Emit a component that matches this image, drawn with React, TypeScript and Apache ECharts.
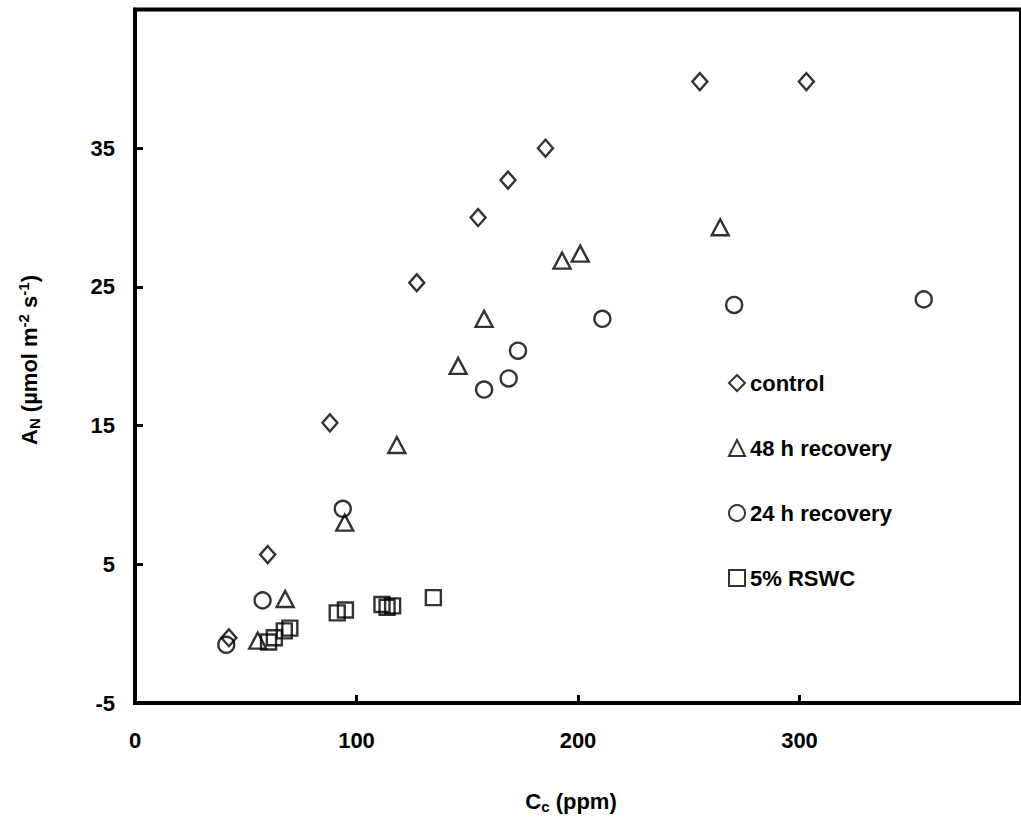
import React, { useEffect, useRef } from "react";
import * as echarts from "echarts";

const xTicksMax = 400;
const yMin = -5;
const yMax = 45;

const xControl = [42.4, 59.9, 88.0, 127.2, 154.9, 168.4, 185.3, 255.0, 303.1];
const yControl = [-0.3, 5.7, 15.2, 25.3, 30.0, 32.7, 35.0, 39.8, 39.8];
const x48 = [55.4, 67.8, 94.7, 118.2, 145.9, 157.6, 192.8, 201.0, 264.2];
const y48 = [-0.5, 2.5, 8.0, 13.6, 19.3, 22.7, 26.9, 27.4, 29.3];
const x24 = [41.2, 57.6, 93.8, 157.6, 168.7, 172.9, 211.0, 270.5, 356.1];
const y24 = [-0.8, 2.4, 9.0, 17.6, 18.4, 20.4, 22.7, 23.7, 24.1];
const xRswc = [60.3, 62.9, 67.4, 69.9, 91.3, 95.0, 111.5, 113.8, 116.3, 134.7];
const yRswc = [-0.6, -0.3, 0.2, 0.4, 1.5, 1.7, 2.1, 1.9, 2.0, 2.6];

const seriesNames = ["control", "48 h recovery", "24 h recovery", "5% RSWC"];

const FONT = "'Liberation Sans', Arial, Helvetica, sans-serif";

const zip = (xs: number[], ys: number[]) => xs.map((x, i) => [x, ys[i]]);

const hollow = {
  color: "rgba(255,255,255,0)",
  borderColor: "#000",
  borderWidth: 2.4,
};

export default function App() {
  const ref = useRef<HTMLDivElement>(null);
  useEffect(() => {
    if (!ref.current) return;
    const chart = echarts.init(ref.current, null, { renderer: "svg" });
    const baseRich = {
      a: { fontSize: 22, fontWeight: "bold", fontFamily: FONT, fill: "#000", lineHeight: 26 },
      sub: { fontSize: 15, fontWeight: "bold", fontFamily: FONT, fill: "#000", lineHeight: 12, verticalAlign: "bottom" },
      sup: { fontSize: 15, fontWeight: "bold", fontFamily: FONT, fill: "#000", lineHeight: 12, verticalAlign: "top" },
    };
    chart.setOption({
      animation: false,
      backgroundColor: "#fff",
      grid: {
        left: 135,
        top: 9.5,
        right: -5,
        bottom: 121,
        show: true,
        borderColor: "#000",
        borderWidth: 4,
        containLabel: false,
      },
      xAxis: {
        type: "value",
        min: 0,
        max: xTicksMax,
        interval: 100,
        axisLine: { show: true, onZero: false, lineStyle: { color: "#000", width: 4 } },
        axisTick: { show: true, inside: true, length: 8, lineStyle: { color: "#000", width: 3 } },
        splitLine: { show: false },
        axisLabel: {
          margin: 26,
          fontSize: 22,
          fontWeight: "bold",
          fontFamily: FONT,
          color: "#000",
          showMaxLabel: false,
        },
      },
      yAxis: {
        type: "value",
        min: yMin,
        max: yMax,
        interval: 10,
        axisLine: { show: true, onZero: false, lineStyle: { color: "#000", width: 4 } },
        axisTick: { show: true, inside: true, length: 8, lineStyle: { color: "#000", width: 3 } },
        splitLine: { show: false },
        axisLabel: {
          margin: 20,
          fontSize: 22,
          fontWeight: "bold",
          fontFamily: FONT,
          color: "#000",
          showMaxLabel: false,
        },
      },
      legend: {
        orient: "vertical",
        left: 728,
        top: 370,
        itemWidth: 16,
        itemHeight: 16,
        itemGap: 39,
        padding: 0,
        data: seriesNames,
        textStyle: { fontSize: 22, fontWeight: "bold", fontFamily: FONT, color: "#000", lineHeight: 26 },
      },
      graphic: [
        {
          type: "text",
          x: 571,
          y: 801,
          style: {
            text: "{a|C}{sub|c}{a| (ppm)}",
            rich: baseRich,
            align: "center",
            verticalAlign: "middle",
          },
        },
        {
          type: "text",
          x: 29,
          y: 360,
          rotation: Math.PI / 2,
          style: {
            text: "{a|A}{sub|N}{a| (µmol m}{sup|-2}{a| s}{sup|-1}{a|)}",
            rich: baseRich,
            align: "center",
            verticalAlign: "middle",
          },
        },
      ],
      series: [
        {
          name: seriesNames[0],
          type: "scatter",
          symbol: "diamond",
          symbolSize: [15, 17],
          itemStyle: hollow,
          data: zip(xControl, yControl),
        },
        {
          name: seriesNames[1],
          type: "scatter",
          symbol: "triangle",
          symbolSize: [17, 16],
          itemStyle: hollow,
          data: zip(x48, y48),
        },
        {
          name: seriesNames[2],
          type: "scatter",
          symbol: "circle",
          symbolSize: 16,
          itemStyle: hollow,
          data: zip(x24, y24),
        },
        {
          name: seriesNames[3],
          type: "scatter",
          symbol: "rect",
          symbolSize: 15,
          itemStyle: hollow,
          data: zip(xRswc, yRswc),
        },
      ],
    });
    return () => chart.dispose();
  }, []);
  return (
    <div
      ref={ref}
      style={{ position: "fixed", left: 0, top: 0, width: 1021, height: 824, background: "#fff" }}
    />
  );
}
